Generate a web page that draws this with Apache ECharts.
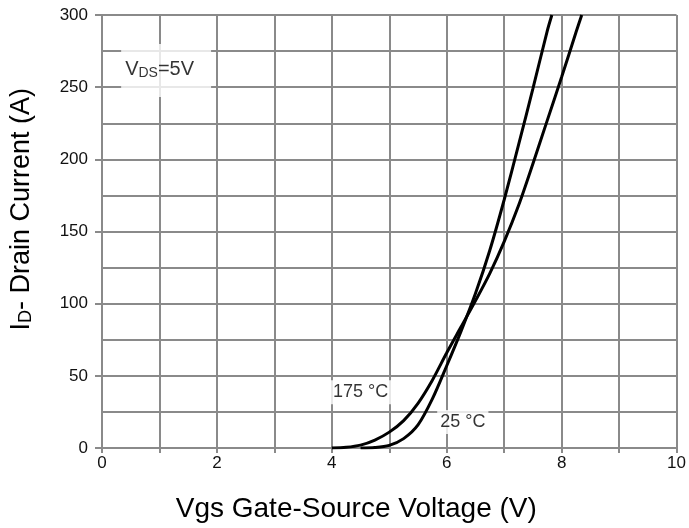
<!DOCTYPE html>
<html>
<head>
<meta charset="utf-8">
<script src="https://cdn.jsdelivr.net/npm/echarts@6/dist/echarts.min.js"></script>
<style>html,body{margin:0;padding:0;background:#fff}#c{width:689px;height:528px}</style>
</head>
<body>
<div id="c"></div>
<script>
// Data: [Vgs (V), Id (A)]
var curve175 = [[4.0,0],[4.25,0.5],[4.5,2],[4.75,5.5],[5.0,11],[5.25,19],[5.5,31],[5.75,47],[6.0,66],[6.25,84],[6.5,102],[6.75,121],[7.0,143],[7.25,168],[7.5,197],[7.75,227],[8.0,257],[8.25,288],[8.35,300]];
var curve25 = [[4.5,0],[4.75,0.3],[5.0,1.8],[5.25,6.5],[5.5,16],[5.75,34],[6.0,57],[6.25,81],[6.5,107],[6.75,137],[7.0,172],[7.25,210],[7.5,249],[7.75,289],[7.83,300]];
var xTicks = [0,2,4,6,8,10];
var yTicks = [0,50,100,150,200,250,300];
var annotations = [
  {name:'175', value:[4.5,38.7], text:'175 °C'},
  {name:'25', value:[6.28,18], text:'25 °C'},
  {name:'vds', value:[1.116,261.6], text:'{n|V}{s|DS}{n|=5V}'}
];

var FONT = 'Arial, "Liberation Sans", Helvetica, sans-serif';
var GRID = '#8a8a8a';
var chart = echarts.init(document.getElementById('c'));
chart.setOption({
  animation: false,
  backgroundColor: '#fff',
  grid: {left: 102, right: 8, top: 15, bottom: 79, containLabel: false},
  xAxis: {
    type: 'value', min: 0, max: 10, interval: 1,
    axisLine: {show: true, lineStyle: {color: GRID, width: 2}},
    axisTick: {show: true, length: 5, lineStyle: {color: GRID, width: 2}},
    splitLine: {show: true, lineStyle: {color: GRID, width: 2}},
    axisLabel: {
      margin: 7, color: '#111', fontSize: 17, fontFamily: FONT,
      formatter: function (v) { return xTicks.indexOf(v) >= 0 ? String(v) : ''; }
    },
    name: 'Vgs Gate-Source Voltage (V)', nameLocation: 'middle', nameGap: 47,
    nameTextStyle: {color: '#000', fontSize: 28, fontFamily: FONT, padding: [0, 66, 0, 0]}
  },
  yAxis: {
    type: 'value', min: 0, max: 300, interval: 50,
    axisLine: {show: true, lineStyle: {color: GRID, width: 2}},
    axisTick: {show: true, length: 7, lineStyle: {color: GRID, width: 2}},
    splitLine: {show: true, lineStyle: {color: GRID, width: 2}},
    minorTick: {show: false, splitNumber: 2},
    minorSplitLine: {show: true, lineStyle: {color: GRID, width: 2}},
    axisLabel: {
      margin: 14, color: '#111', fontSize: 17, fontFamily: FONT,
      formatter: function (v) { return yTicks.indexOf(v) >= 0 ? String(v) : ''; }
    }
  },
  graphic: [{
    type: 'text', left: 8, top: 88, rotation: Math.PI / 2, z: 10,
    style: {
      text: '{n|I}{s|D}{n|- Drain Current (A)}',
      fill: '#000', font: '27px ' + FONT,
      rich: {
        n: {fontSize: 27, fontFamily: FONT, fill: '#000'},
        s: {fontSize: 18, fontFamily: FONT, fill: '#000', verticalAlign: 'bottom', padding: [9, 0, 0, 0]}
      }
    }
  }],
  series: [
    {
      name: '175 °C', type: 'line', data: curve175, smooth: 0.3,
      showSymbol: false, symbol: 'none', lineStyle: {color: '#000', width: 3}, z: 3
    },
    {
      name: '25 °C', type: 'line', data: curve25, smooth: 0.3,
      showSymbol: false, symbol: 'none', lineStyle: {color: '#000', width: 3}, z: 3
    },
    {
      type: 'scatter', symbolSize: 0, silent: true, z: 5,
      data: annotations.map(function (a) {
        var isVds = a.name === 'vds';
        return {
          value: a.value,
          label: {
            show: true, position: 'inside', formatter: a.text,
            color: '#000', fontSize: isVds ? 20 : 18, fontFamily: FONT,
            backgroundColor: '#fff',
            padding: isVds ? [16, 17, 17, 4] : [3, 3, 3, 3],
            rich: isVds ? {
              n: {fontSize: 20, fontFamily: FONT, color: '#000'},
              s: {fontSize: 14, fontFamily: FONT, color: '#000', verticalAlign: 'bottom', padding: [6, 0, 0, 0]}
            } : undefined
          }
        };
      })
    }
  ]
});
</script>
</body>
</html>
